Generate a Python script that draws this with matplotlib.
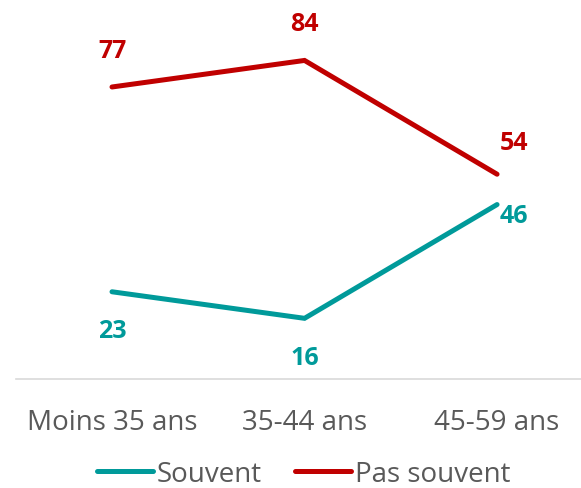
import matplotlib
matplotlib.use("Agg")
import matplotlib.pyplot as plt

categories = ["Moins 35 ans", "35-44 ans", "45-59 ans"]
souvent = [23, 16, 46]
pas_souvent = [77, 84, 54]

TEAL = "#009A9A"
RED = "#C00000"
GREY = "#595959"

plt.rcParams['font.family'] = ['Open Sans', 'DejaVu Sans']

fig = plt.figure(figsize=(5.81, 4.89), dpi=100)
W, H = 581, 489
ax = fig.add_axes([16 / W, (H - 380) / H, 1 - 16 / W, 380 / H])
x = list(range(len(categories)))

ax.plot(x, souvent, color=TEAL, lw=3.6, solid_capstyle='round', solid_joinstyle='miter', label="Souvent")
ax.plot(x, pas_souvent, color=RED, lw=3.6, solid_capstyle='round', solid_joinstyle='miter', label="Pas souvent")

ax.set_xlim(-0.4987, 2.436)
ax.set_ylim(0, 100.2)

# data labels (offsets in points)
px = 72 / 100
red_off = [(0, 36), (0, 37), (17, 32)]
teal_off = [(0, -39), (0, -39), (17, -11)]
for i, v in enumerate(pas_souvent):
    ax.annotate(str(v), (x[i], v), xytext=(red_off[i][0] * px, red_off[i][1] * px),
                textcoords='offset points', ha='center', va='center',
                color=RED, fontsize=18, fontweight='bold')
for i, v in enumerate(souvent):
    ax.annotate(str(v), (x[i], v), xytext=(teal_off[i][0] * px, teal_off[i][1] * px),
                textcoords='offset points', ha='center', va='center',
                color=TEAL, fontsize=18, fontweight='bold')

for s in ['top', 'right', 'left']:
    ax.spines[s].set_visible(False)
ax.spines['bottom'].set_color('#D9D9D9')
ax.spines['bottom'].set_linewidth(1.2)
ax.set_yticks([])
ax.set_xticks(x)
ax.set_xticklabels(categories, fontsize=20, color=GREY)
ax.tick_params(axis='x', length=0, pad=21)

leg = fig.legend(loc='center', bbox_to_anchor=(304 / W, (H - 475) / H), ncol=2, frameon=False,
                 fontsize=20, handlelength=2.0, handletextpad=0.15, columnspacing=1.2,
                 borderpad=0.0)
for t in leg.get_texts():
    t.set_color(GREY)

fig.savefig("out.png", dpi=100)
